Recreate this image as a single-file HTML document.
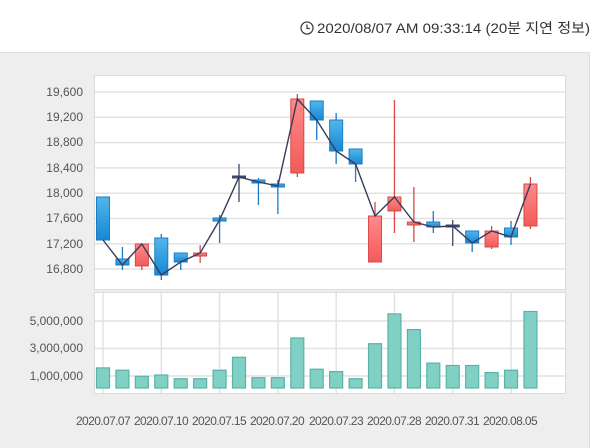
<!DOCTYPE html>
<html><head><meta charset="utf-8"><style>
html,body{margin:0;padding:0;background:#fff;width:600px;height:448px;overflow:hidden}
svg{display:block}
text{font-family:"Liberation Sans","Noto Sans CJK KR",sans-serif}
</style></head><body>
<svg id="s" width="600" height="448" viewBox="0 0 600 448" xmlns="http://www.w3.org/2000/svg">
<defs>
<linearGradient id="gb" x1="0" y1="0" x2="0" y2="1"><stop offset="0" stop-color="#52b6ea"/><stop offset="1" stop-color="#1688d4"/></linearGradient>
<linearGradient id="gr" x1="0" y1="0" x2="0" y2="1"><stop offset="0" stop-color="#ff8a8a"/><stop offset="1" stop-color="#f35a5a"/></linearGradient>
</defs>
<rect x="0" y="52" width="589" height="396" fill="#eeeeee"/>
<line x1="0" y1="52.5" x2="589" y2="52.5" stroke="#dddddd"/>
<line x1="589.5" y1="52" x2="589.5" y2="448" stroke="#dddddd"/>
<circle cx="307" cy="28" r="6" fill="none" stroke="#444" stroke-width="1.3"/>
<path d="M307 24.5V28.5H310" fill="none" stroke="#444" stroke-width="1.3"/>
<text x="590" y="33" font-size="14" fill="#333" text-anchor="end" textLength="273" lengthAdjust="spacingAndGlyphs">2020/08/07 AM 09:33:14 (20분 지연 정보)</text>
<rect x="94.5" y="75.5" width="471" height="214" fill="#fff" stroke="#dcdcdc"/>
<rect x="94.5" y="292.5" width="471" height="101" fill="#fff" stroke="#dcdcdc"/>
<g stroke="#e2e2e2" stroke-width="1.5" id="grid"></g>
<g font-size="12" fill="#555" text-anchor="end">
<text x="83" y="96">19,600</text><text x="83" y="121">19,200</text><text x="83" y="146">18,800</text><text x="83" y="172">18,400</text><text x="83" y="197">18,000</text><text x="83" y="222">17,600</text><text x="83" y="248">17,200</text><text x="83" y="273">16,800</text>
<text x="83" y="325">5,000,000</text><text x="83" y="352">3,000,000</text><text x="83" y="380">1,000,000</text>
</g>
<g font-size="12" fill="#555" text-anchor="middle" letter-spacing="-0.6">
<text x="103" y="425">2020.07.07</text><text x="161" y="425">2020.07.10</text><text x="219" y="425">2020.07.15</text><text x="277" y="425">2020.07.20</text><text x="336" y="425">2020.07.23</text><text x="394" y="425">2020.07.28</text><text x="452" y="425">2020.07.31</text><text x="510" y="425">2020.08.05</text>
</g>
<g id="c"></g>
</svg>
<script>
var ns="http://www.w3.org/2000/svg",g=document.getElementById('c'),gr=document.getElementById('grid');
function el(p,t,a){var e=document.createElementNS(ns,t);for(var k in a)e.setAttribute(k,a[k]);p.appendChild(e);return e;}
[92,117.3,142.6,167.9,193.2,218.5,243.8,269].forEach(function(y){el(gr,'line',{x1:95,x2:565,y1:y,y2:y});});
[321,348.5,376].forEach(function(y){el(gr,'line',{x1:95,x2:565,y1:y,y2:y});});
for(var i=0;i<8;i++){var x=103+i*58.3;el(gr,'line',{x1:x,x2:x,y1:293,y2:393});}
// top,bottom,wickTop,wickBot,color,close
var d=[[197,240,197,240,'b',240],[259,265,247,270,'b',265],[244,266,244,270,'r',244],[238,275,234,280,'b',275],[253,262,253,270,'b',262],[253,256,245,263,'r',253],[218,221,215,243,'b',220],[176,178,164,202,'k',177],[180,183,178,205,'b',182],[184,187,180,214,'b',186],[99,173,94,177,'r',99],[101,120,101,140,'b',120],[120,151,113,164,'b',151],[149,164,149,182,'b',164],[216,262,202,262,'r',216],[197,211,100,233,'r',197],[222,225,187,242,'r',222],[222,227,211,233,'b',227],[225,227,220,246,'k',226],[231,243,231,252,'b',243],[231,247,226,249,'r',231],[228,237,221,245,'b',237],[184,226,177,229,'r',184]];
var v=[367.9,370.2,376.3,375,378.7,378.7,370.2,357.3,377.7,377.7,338,369.2,371.6,378.7,343.7,313.9,329.6,363.1,365.5,365.5,372.6,370.2,311.5];
var pts=[];
d.forEach(function(c,i){var x=103+i*19.43;
 var col=c[4]=='b'?'#1a7cc4':c[4]=='r'?'#d94848':'#3a4a6a';
 el(g,'line',{x1:x,x2:x,y1:c[2],y2:c[3],stroke:col,'stroke-width':1.3});
 var h=Math.max(c[1]-c[0],2);
 el(g,'rect',{x:x-6.5,y:c[0],width:13,height:h,fill:c[4]=='b'?'url(#gb)':c[4]=='r'?'url(#gr)':col,stroke:col,'stroke-width':1});
 pts.push(x+','+c[5]);
 el(g,'rect',{x:x-6.5,y:v[i],width:13,height:388-v[i],fill:'#80d0c5',stroke:'#5bb3a7','stroke-width':1.2});
});
el(g,'polyline',{points:pts.join(' '),fill:'none',stroke:'#3b3b5c','stroke-width':1.4});
</script>
</body></html>
